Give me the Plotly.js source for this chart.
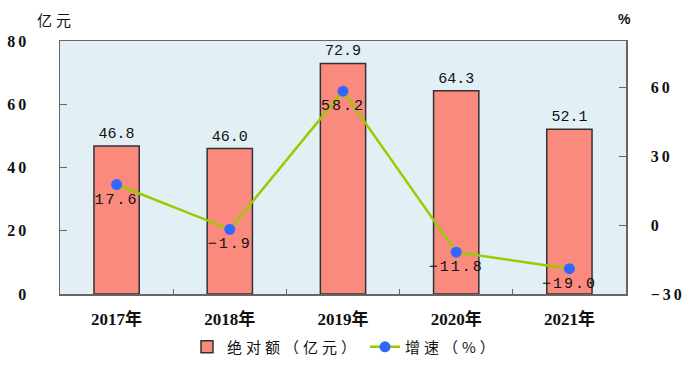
<!DOCTYPE html>
<html><head><meta charset="utf-8">
<script src="https://cdn.plot.ly/plotly-3.0.1.min.js"></script>
<style>
body{margin:0;padding:0;background:#fff}#c{width:691px;height:368px}
.textpoint text{letter-spacing:2px}
.ytick text, .y2tick text{letter-spacing:3px}
.legendtext{letter-spacing:4px}
.annotation-text{letter-spacing:4px}
</style>
</head><body><div id="c"></div>
<script>
var categories = ['2017年','2018年','2019年','2020年','2021年'];
var amount = [46.8, 46.0, 72.9, 64.3, 52.1];
var growth = [17.6, -1.9, 58.2, -11.8, -19.0];
var amountName = '绝对额（亿元）';
var growthName = '增速（%）';

var numFont = {family:'Liberation Mono, DejaVu Sans Mono, monospace', size:15, color:'#111'};
var tickFont = {family:'Liberation Serif, serif', size:16, color:'#111', weight:'bold'};

var bar = {
  type:'bar', x:categories, y:amount, name:amountName,
  marker:{color:'#FA8A7E', line:{color:'#333', width:1.5}},
  width:0.4,
  text:amount.map(function(v){return v.toFixed(1);}),
  textposition:'outside', textfont:numFont, cliponaxis:false,
  hoverinfo:'none'
};
var line = {
  type:'scatter', mode:'lines+markers+text', x:categories, y:growth, name:growthName,
  yaxis:'y2',
  line:{color:'#99CC00', width:2.5},
  marker:{color:'#3366FF', size:11},
  text:growth.map(function(v){return (v<0?'−':'')+Math.abs(v).toFixed(1);}),
  textposition:'bottom center',
  textfont:numFont, cliponaxis:false,
  hoverinfo:'none'
};

var layout = {
  width:691, height:368,
  margin:{l:60, r:65, t:41, b:74},
  paper_bgcolor:'#fff', plot_bgcolor:'#E2F0F5',
  showlegend:true,
  legend:{orientation:'h', x:0.5, xanchor:'center', xref:'container', yref:'container', y:0.057, yanchor:'middle',
    font:{family:'Noto Sans CJK SC, sans-serif', size:15, color:'#111'}, traceorder:'normal'},
  xaxis:{type:'category', showline:true, linecolor:'#666', linewidth:1.5, mirror:true,
    ticks:'inside', tickson:'boundaries', ticklen:5, tickcolor:'#666', tickangle:0,
    tickfont:{family:'Liberation Serif, Noto Sans CJK SC, serif', size:17, color:'#111', weight:'bold'},
    ticklabelstandoff:9, automargin:false,
    showgrid:false, zeroline:false},
  yaxis:{range:[0,80], dtick:20, showline:true, linecolor:'#666', linewidth:1.5,
    ticks:'inside', ticklen:7, tickcolor:'#666', showgrid:false, zeroline:false,
    tickfont:tickFont, ticklabelstandoff:26, automargin:false},
  yaxis2:{range:[-30,80], tickvals:[-30,0,30,60], overlaying:'y', side:'right',
    showline:true, linecolor:'#666', linewidth:1.5, ticks:'inside', ticklen:7, tickcolor:'#666',
    showgrid:false, zeroline:false, tickfont:tickFont, ticklabelstandoff:20, automargin:false},
  annotations:[
    {text:'亿元', xref:'paper', yref:'paper', x:-0.007, y:1.085, xanchor:'center', yanchor:'middle', showarrow:false,
      font:{family:'Noto Sans CJK SC, sans-serif', size:15, color:'#111'}},
    {text:'%', xref:'paper', yref:'paper', x:1.0, y:1.085, xanchor:'center', yanchor:'middle', showarrow:false,
      font:{family:'Liberation Sans, sans-serif', size:14, color:'#111', weight:'bold'}}
  ]
};
Plotly.newPlot('c',[bar,line],layout,{displayModeBar:false, staticPlot:true});
</script></body></html>
